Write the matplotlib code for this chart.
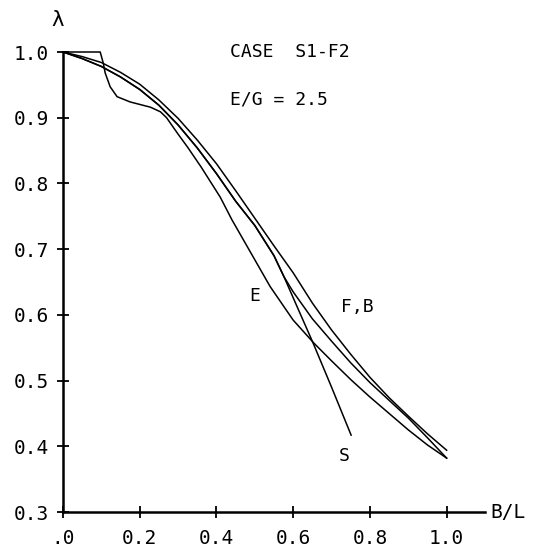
import numpy as np
import matplotlib.pyplot as plt

# Curves (B/L vs lambda)
x_f = [0, 0.05, 0.1, 0.15, 0.2, 0.25, 0.3, 0.35, 0.4, 0.45, 0.5, 0.55,
       0.6, 0.65, 0.7, 0.75, 0.8, 0.85, 0.9, 0.95, 1.0]
y_f = [1.0, 0.993, 0.984, 0.969, 0.951, 0.927, 0.899, 0.866, 0.83, 0.789,
       0.747, 0.705, 0.664, 0.618, 0.577, 0.54, 0.505, 0.474, 0.446, 0.419, 0.394]

x_b = [0, 0.05, 0.1, 0.15, 0.2, 0.25, 0.3, 0.35, 0.4, 0.45, 0.5, 0.55,
       0.576, 0.6, 0.65, 0.7, 0.75, 0.8, 0.85, 0.9, 0.95, 1.0]
y_b = [1.0, 0.99, 0.978, 0.962, 0.943, 0.919, 0.889, 0.854, 0.815, 0.773,
       0.736, 0.69, 0.658, 0.635, 0.594, 0.56, 0.527, 0.497, 0.47, 0.443, 0.413, 0.382]

x_s = [0, 0.05, 0.1, 0.15, 0.2, 0.25, 0.3, 0.35, 0.4, 0.45, 0.5, 0.55,
       0.576, 0.6, 0.652, 0.7, 0.751]
y_s = [1.0, 0.99, 0.978, 0.962, 0.943, 0.919, 0.889, 0.854, 0.815, 0.773,
       0.736, 0.69, 0.658, 0.626, 0.557, 0.49, 0.417]

x_e = [0, 0.097, 0.105, 0.11, 0.123, 0.141, 0.175, 0.228, 0.254, 0.27, 0.3,
       0.325, 0.36, 0.41, 0.44, 0.49, 0.54, 0.6, 0.654, 0.7, 0.751, 0.8,
       0.85, 0.9, 0.95, 1.0]
y_e = [1.0, 1.0, 0.983, 0.968, 0.947, 0.932, 0.924, 0.916, 0.909, 0.9, 0.875,
       0.855, 0.825, 0.779, 0.745, 0.694, 0.643, 0.592, 0.557, 0.53, 0.501, 0.475,
       0.45, 0.425, 0.402, 0.382]

yticks = [0.3, 0.4, 0.5, 0.6, 0.7, 0.8, 0.9, 1.0]
ytick_labels = ["0.3", "0.4", "0.5", "0.6", "0.7", "0.8", "0.9", "1.0"]
xticks = [0.0, 0.2, 0.4, 0.6, 0.8, 1.0]
xtick_labels = [".0", "0.2", "0.4", "0.6", "0.8", "1.0"]

plt.rcParams['font.family'] = ['DejaVu Sans Mono']

fig = plt.figure(figsize=(5.39, 5.48), dpi=100)
ax = fig.add_axes([63/539, 36/548, 422/539, 460/548])

for xs, ys in [(x_f, y_f), (x_b, y_b), (x_s, y_s), (x_e, y_e)]:
    ax.plot(xs, ys, color="black", lw=1.1, clip_on=False)

ax.set_xlim(0, 1.1)
ax.set_ylim(0.3, 1.0)
for s in ["top", "right"]:
    ax.spines[s].set_visible(False)
ax.spines["left"].set_linewidth(1.8)
ax.spines["bottom"].set_linewidth(1.8)

ax.set_yticks(yticks)
ax.set_yticklabels(ytick_labels, fontsize=14)
ax.set_xticks(xticks)
ax.set_xticklabels(xtick_labels, fontsize=14)
ax.tick_params(direction="inout", length=8, width=1.3, pad=6)
ax.tick_params(axis="x", pad=8)

ax.text(0.435, 1.0, "CASE  S1-F2", fontsize=13, va="center", ha="left")
ax.text(0.435, 0.927, "E/G = 2.5", fontsize=13, va="center", ha="left")
ax.text(0.50, 0.629, "E", fontsize=13, va="center", ha="center")
ax.text(0.766, 0.612, "F,B", fontsize=13, va="center", ha="center")
ax.text(0.733, 0.385, "S", fontsize=13, va="center", ha="center")
ax.text(1.113, 0.3, "B/L", fontsize=14, va="center", ha="left", clip_on=False)
ax.text(-0.013, 1.049, "λ", fontsize=15, va="center", ha="center", clip_on=False)

fig.savefig("out.png", dpi=100)
